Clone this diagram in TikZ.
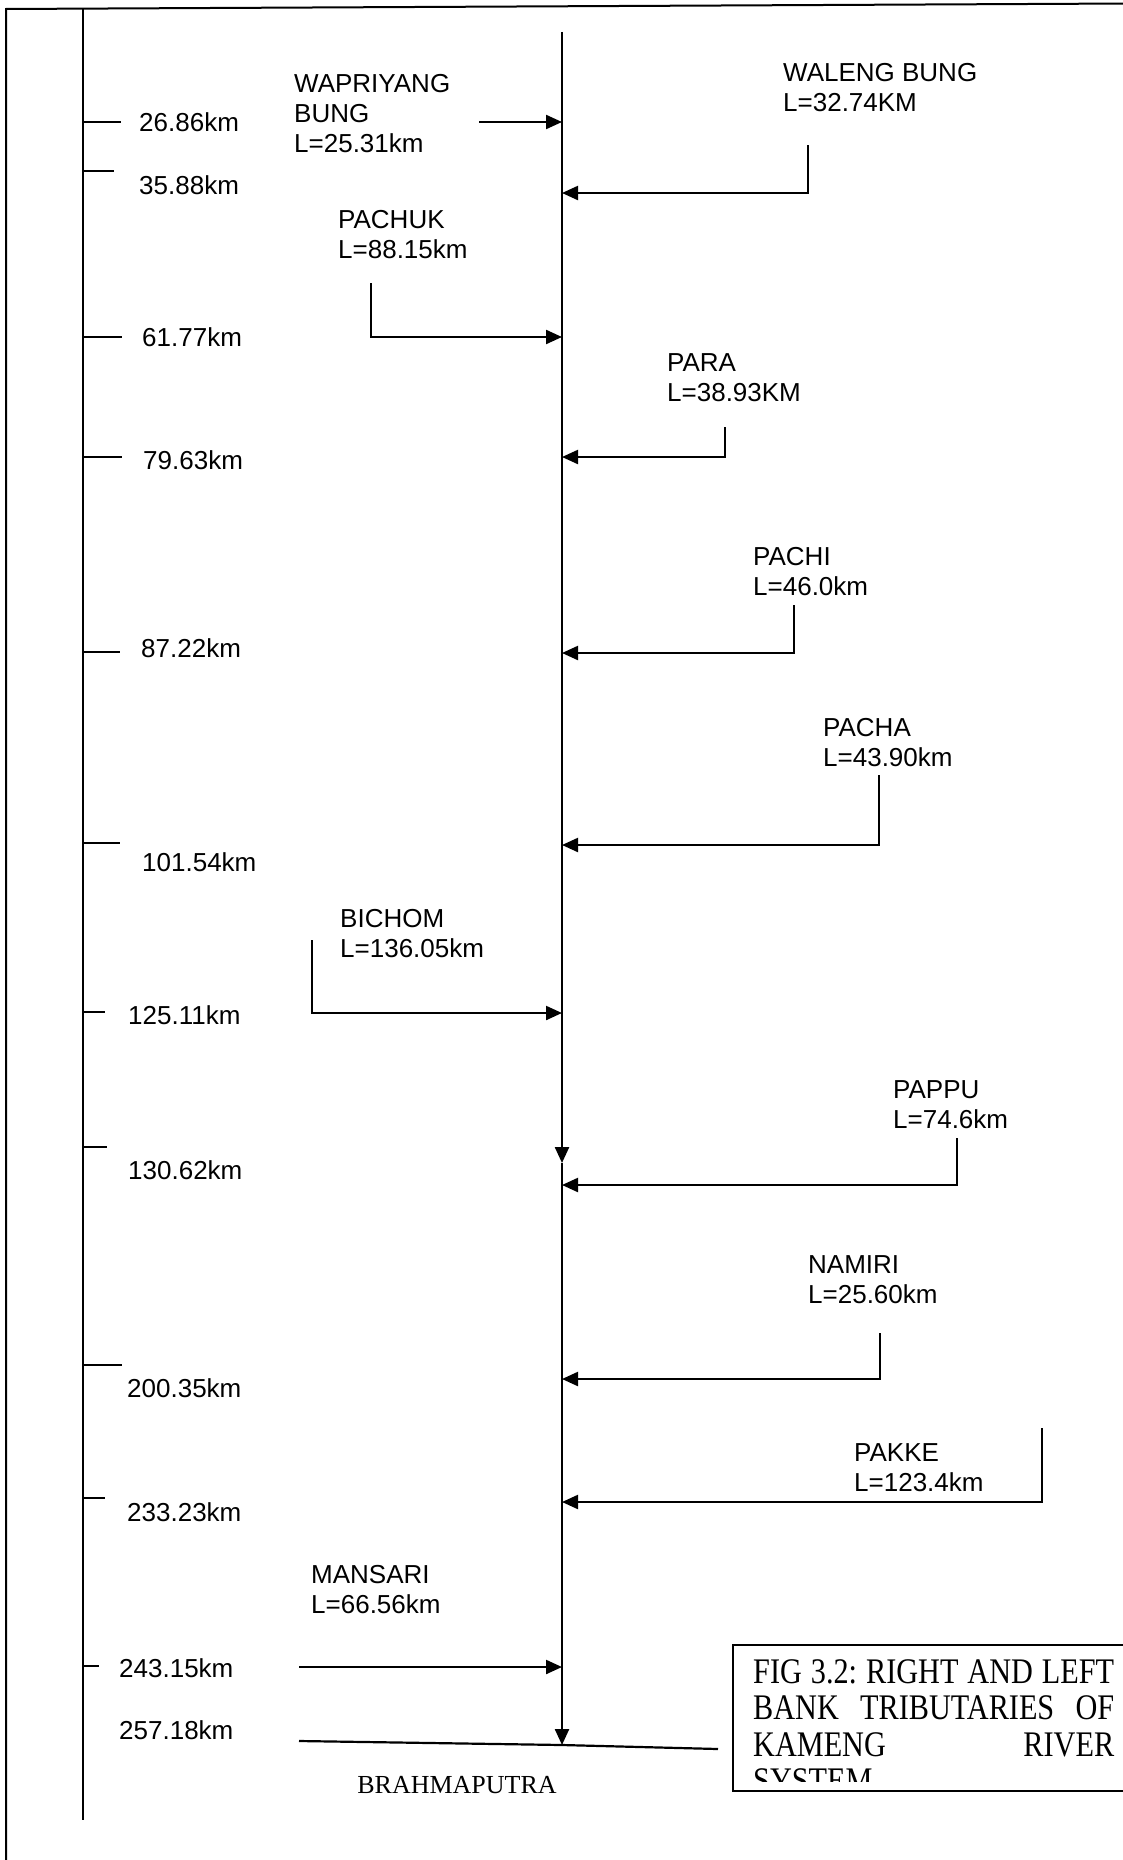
\documentclass[tikz,border=0pt]{standalone}
\usepackage{fontspec}
\setmainfont{Liberation Sans}
\newfontfamily\capfont[FakeStretch=0.84]{Liberation Serif}
\newfontfamily\seriffont{Liberation Serif}
\usetikzlibrary{arrows.meta}

\begin{document}
\begin{tikzpicture}[
    x=1pt,
    y=-1pt,
    >={Triangle[length=16pt, width=14pt]},
    frameline/.style={line width=2pt},
    axisline/.style={line width=2.4pt},
    tickline/.style={line width=2.2pt},
    riverline/.style={->, line width=2.4pt},
    inflow/.style={->, line width=2.2pt},
    kmlabel/.style={anchor=west, inner sep=0pt, font=\fontsize{26}{30}\selectfont},
    tribname/.style={anchor=west, inner sep=0pt, align=left, font=\fontsize{26}{30}\selectfont},
    basinlabel/.style={inner sep=0pt, font=\seriffont\fontsize{26}{30}\selectfont},
    captiontext/.style={anchor=north west, inner sep=0pt, text width=361pt, align=left, font=\capfont\fontsize{36}{36.5}\selectfont}
]

\useasboundingbox (0,0) rectangle (1122,1860);

\draw[frameline] (6,1865) -- (6,9) -- (1130,3.5);

\coordinate (axisTop) at (83,9);
\coordinate (axisEnd) at (83,1820);
\draw[axisline] (axisTop) -- (axisEnd);

\draw[tickline] (83,122) -- (121,122);
\draw[tickline] (83,171) -- (114,171);
\draw[tickline] (83,337) -- (122,337);
\draw[tickline] (83,457) -- (122,457);
\draw[tickline] (83,652) -- (120,652);
\draw[tickline] (83,843) -- (120,843);
\draw[tickline] (83,1012) -- (105,1012);
\draw[tickline] (83,1147) -- (107,1147);
\draw[tickline] (83,1365) -- (122,1365);
\draw[tickline] (83,1498) -- (105,1498);
\draw[tickline] (83,1666) -- (99,1666);

\node[kmlabel] (km1) at (139,122) {26.86km};
\node[kmlabel] (km2) at (139,185) {35.88km};
\node[kmlabel] (km3) at (142,337) {61.77km};
\node[kmlabel] (km4) at (143,460) {79.63km};
\node[kmlabel] (km5) at (141,648) {87.22km};
\node[kmlabel] (km6) at (142,862) {101.54km};
\node[kmlabel] (km7) at (128,1015) {125.11km};
\node[kmlabel] (km8) at (128,1170) {130.62km};
\node[kmlabel] (km9) at (127,1388) {200.35km};
\node[kmlabel] (km10) at (127,1512) {233.23km};
\node[kmlabel] (km11) at (119,1668) {243.15km};
\node[kmlabel] (km12) at (119,1730) {257.18km};

\coordinate (kamengSrc) at (562,32);
\coordinate (kamengMid) at (562,1163);
\coordinate (kamengMouth) at (562,1745);
\draw[riverline] (kamengSrc) -- (kamengMid);
\draw[riverline] (kamengMid) -- (kamengMouth);

\node[tribname] (wapriyang) at (294,114) {WAPRIYANG\\BUNG\\L=25.31km};
\coordinate (wapriyangSrc) at (479,122);
\coordinate (wapriyangJn) at (562,122);
\draw[inflow] (wapriyangSrc) -- (wapriyangJn);

\node[tribname] (waleng) at (783,88) {WALENG BUNG\\L=32.74KM};
\coordinate (walengSrc) at (808,145);
\coordinate (walengJn) at (562,193);
\draw[inflow] (walengSrc) |- (walengJn);

\node[tribname] (pachuk) at (338,235) {PACHUK\\L=88.15km};
\coordinate (pachukSrc) at (371,283);
\coordinate (pachukJn) at (562,337);
\draw[inflow] (pachukSrc) |- (pachukJn);

\node[tribname] (para) at (667,378) {PARA\\L=38.93KM};
\coordinate (paraSrc) at (725,427);
\coordinate (paraJn) at (562,457);
\draw[inflow] (paraSrc) |- (paraJn);

\node[tribname] (pachi) at (753,572) {PACHI\\L=46.0km};
\coordinate (pachiSrc) at (794,605);
\coordinate (pachiJn) at (562,653);
\draw[inflow] (pachiSrc) |- (pachiJn);

\node[tribname] (pacha) at (823,743) {PACHA\\L=43.90km};
\coordinate (pachaSrc) at (879,775);
\coordinate (pachaJn) at (562,845);
\draw[inflow] (pachaSrc) |- (pachaJn);

\node[tribname] (bichom) at (340,934) {BICHOM\\L=136.05km};
\coordinate (bichomSrc) at (312,940);
\coordinate (bichomJn) at (562,1013);
\draw[inflow] (bichomSrc) |- (bichomJn);

\node[tribname] (pappu) at (893,1105) {PAPPU\\L=74.6km};
\coordinate (pappuSrc) at (957,1138);
\coordinate (pappuJn) at (562,1185);
\draw[inflow] (pappuSrc) |- (pappuJn);

\node[tribname] (namiri) at (808,1280) {NAMIRI\\L=25.60km};
\coordinate (namiriSrc) at (880,1333);
\coordinate (namiriJn) at (562,1379);
\draw[inflow] (namiriSrc) |- (namiriJn);

\node[tribname] (pakke) at (854,1468) {PAKKE\\L=123.4km};
\coordinate (pakkeSrc) at (1042,1428);
\coordinate (pakkeJn) at (562,1502);
\draw[inflow] (pakkeSrc) |- (pakkeJn);

\node[tribname] (mansari) at (311,1590) {MANSARI\\L=66.56km};
\coordinate (mansariSrc) at (299,1667);
\coordinate (mansariJn) at (562,1667);
\draw[inflow] (mansariSrc) -- (mansariJn);

\coordinate (brahmaW) at (299,1741);
\coordinate (brahmaE) at (718,1749);
\draw[tickline] (brahmaW) -- (kamengMouth) -- (brahmaE);
\node[basinlabel] (brahmaputra) at (457,1785) {BRAHMAPUTRA};

\begin{scope}
\clip (733,1645) rectangle (1140,1781);
\node[captiontext] (caption) at (753,1659)
{FIG\hfill 3.2:\hfill RIGHT\hfill AND\hfill LEFT\\
BANK\hfill TRIBUTARIES\hfill OF\\
KAMENG\hfill RIVER\\
SYSTEM};
\end{scope}
\draw[frameline] (733,1645) rectangle (1140,1791);

\end{tikzpicture}
\end{document}
